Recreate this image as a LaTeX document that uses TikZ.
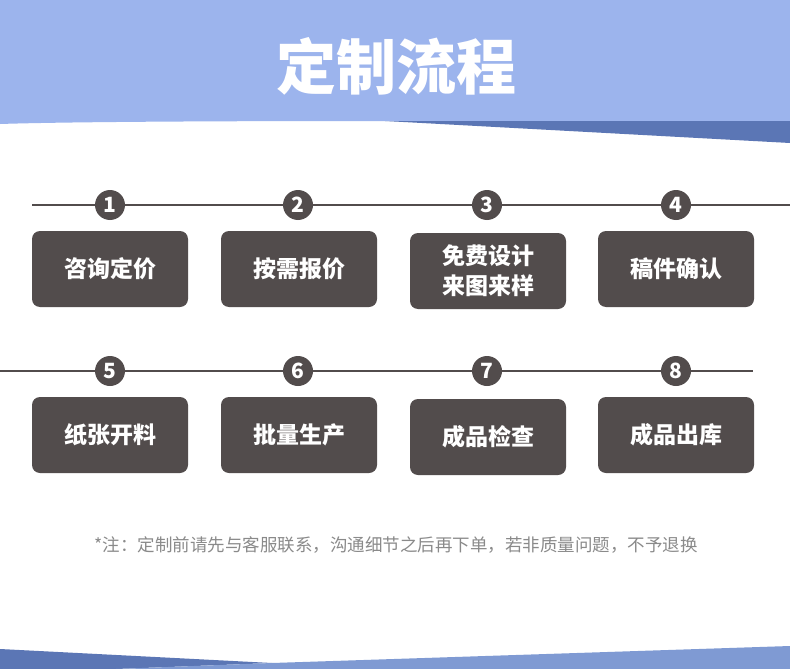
\documentclass[tikz,border=0pt]{standalone}
\usepackage{fontspec}
\newfontfamily\cjk{Noto Sans CJK SC}
\definecolor{hdlight}{HTML}{9CB4ED}
\definecolor{hddark}{HTML}{5B76B5}
\definecolor{ftlight}{HTML}{7F9AD3}
\definecolor{boxc}{HTML}{524C4C}
\definecolor{notec}{HTML}{8A8A8A}
\tikzset{
  stepbox/.style={fill=boxc, rounded corners=8pt, minimum width=156pt, minimum height=76pt, inner sep=0pt,
    text=white, font=\cjk\bfseries\fontsize{23}{30}\selectfont, align=center},
  numdot/.style={circle, fill=boxc, minimum size=30pt, inner sep=0pt, text=white,
    font=\cjk\bfseries\fontsize{21}{21}\selectfont},
  rowline/.style={draw=boxc, line width=2.4pt}
}
\begin{document}
\begin{tikzpicture}[x=1pt,y=-1pt]
\useasboundingbox (0,0) rectangle (790,669);
\fill[white] (0,0) rectangle (790,669);
% header
\fill[hdlight] (0,0) -- (790,0) -- (790,121) -- (385,121) .. controls (200,121) and (60,122) .. (0,124) -- cycle;
\fill[hddark] (385,121) -- (790,121) -- (790,143) -- cycle;
\node[text=white, font=\cjk\bfseries\fontsize{60}{60}\selectfont, inner sep=0pt] (title) at (396,66) {定制流程};
% footer bands
\fill[hddark] (0,649) -- (272,663) -- (116,669) -- (0,669) -- cycle;
\fill[ftlight] (790,646) -- (272,663) -- (116,669) -- (790,669) -- cycle;
% row 1
\coordinate (l1a) at (32,205);
\coordinate (l1b) at (790,205);
\draw[rowline] (l1a) -- (l1b);
\node[numdot] (n1) at (110,205) {1};
\node[numdot] (n2) at (298,205) {2};
\node[numdot] (n3) at (487,205) {3};
\node[numdot] (n4) at (676,205) {4};
\node[stepbox] (b1) at (110,269) {咨询定价};
\node[stepbox] (b2) at (299,269) {按需报价};
\node[stepbox] (b3) at (488,271) {免费设计\\来图来样};
\node[stepbox] (b4) at (676,269) {稿件确认};
% row 2
\coordinate (l2a) at (0,371);
\coordinate (l2b) at (753,371);
\draw[rowline] (l2a) -- (l2b);
\node[numdot] (n5) at (110,371) {5};
\node[numdot] (n6) at (298,371) {6};
\node[numdot] (n7) at (487,371) {7};
\node[numdot] (n8) at (676,371) {8};
\node[stepbox] (b5) at (110,435) {纸张开料};
\node[stepbox] (b6) at (299,435) {批量生产};
\node[stepbox] (b7) at (488,437) {成品检查};
\node[stepbox] (b8) at (676,435) {成品出库};
% note
\node[text=notec, font=\cjk\fontsize{17.5}{18}\selectfont, inner sep=0pt] (note) at (396,545) {*注：定制前请先与客服联系，沟通细节之后再下单，若非质量问题，不予退换};
\end{tikzpicture}
\end{document}
